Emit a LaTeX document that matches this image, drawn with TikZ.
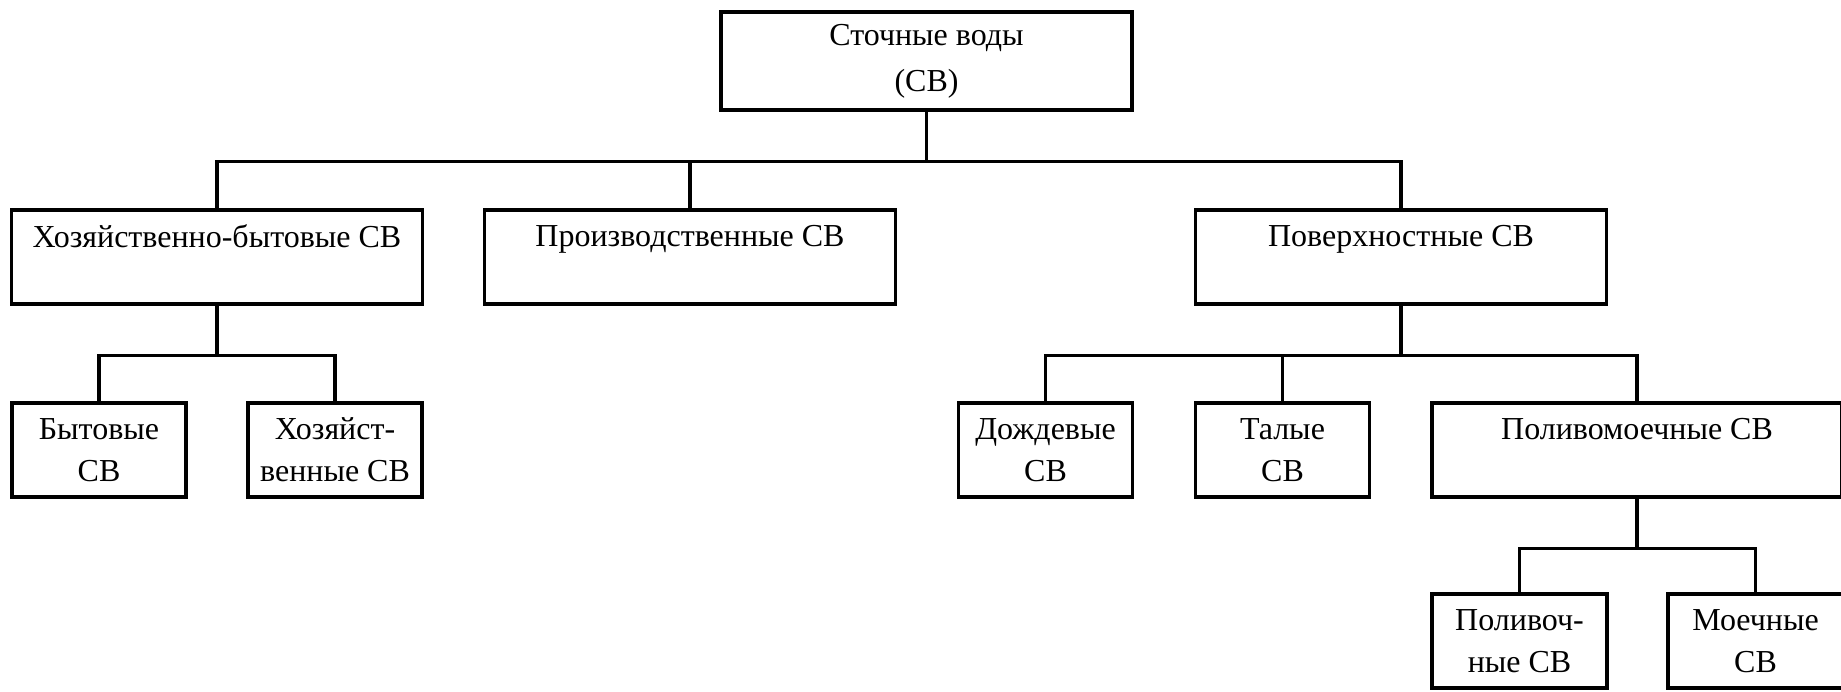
\documentclass[tikz,border=0pt]{standalone}
\usepackage{fontspec}
\setmainfont{Liberation Serif}

\begin{document}
\begin{tikzpicture}[x=0.5pt, y=-0.5pt,
    box/.style={draw, line width=1.7pt, align=center, inner sep=0pt,
        font=\fontsize{16}{21}\selectfont, minimum height=47pt},
    link/.style={line width=1.7pt}]
    \useasboundingbox (0,0) rectangle (1841,691);
    \node[box, minimum width=205.5pt, minimum height=49pt,
        font=\fontsize{16}{23}\selectfont] (top) at (926.5,61) {Сточные воды\\(СВ)};
    \foreach \n/\x/\t in {
        hb/217/Хозяйственно-бытовые СВ,
        prod/690/Производственные СВ,
        pov/1401/Поверхностные СВ
        } {
        \node[box, minimum width=205.5pt] (\n) at (\x,257) {\t\\ ~};
    }
    \foreach \n/\x/\t in {
        byt/99/Бытовые\\СВ,
        hoz/335/Хозяйст-\\венные СВ,
        dozh/1045.5/Дождевые\\СВ,
        tal/1282.5/Талые\\СВ
        } {
        \node[box, minimum width=87pt] (\n) at (\x,450) {\t};
    }
    \node[box, minimum width=205pt] (polmo) at (1637,450) {Поливомоечные СВ\\ ~};
    \node[box, minimum width=87.5pt] (poliv) at (1519.5,641) {Поливоч-\\ные СВ};
    \node[box, minimum width=87.5pt] (moech) at (1755.5,641) {Моечные\\СВ};
    \foreach \p/\c in {top/hb, top/prod, top/pov, hb/byt, hb/hoz,
        pov/dozh, pov/tal, pov/polmo, polmo/poliv, polmo/moech} {
        \draw[link] (\p.south) -- ++(0,50) -| (\c.north);
    }
\end{tikzpicture}
\end{document}
